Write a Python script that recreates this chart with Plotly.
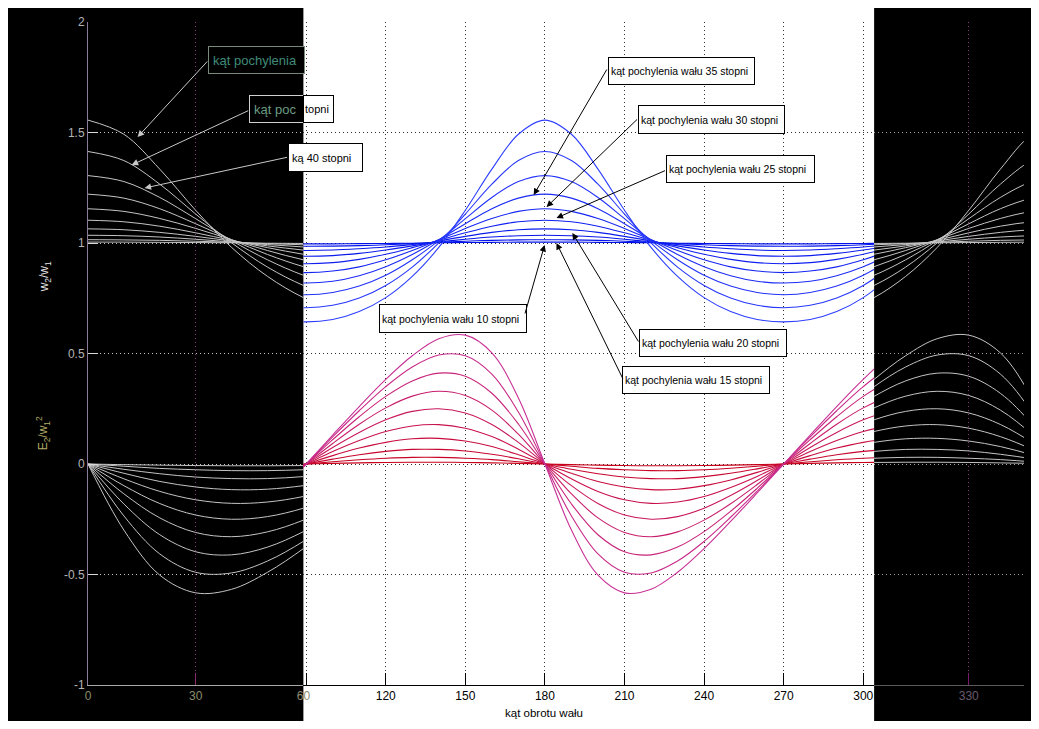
import plotly.graph_objects as go

# ---------------- data ----------------
ANGLES = [0, 10, 20, 30, 40, 50, 60, 70, 80, 90, 100, 110, 120, 130, 140, 150, 160, 170, 180,
          190, 200, 210, 220, 230, 240, 250, 260, 270, 280, 290, 300, 310, 320, 330, 340, 350, 360]

TILT_ANGLES = [5, 10, 15, 20, 25, 30, 35, 40, 45, 50]

# w2/w1
W_05 = [1.004, 1.004, 1.003, 1.002, 1.001, 0.999, 0.998, 0.997, 0.996, 0.996, 0.996, 0.997, 0.998, 0.999, 1.001, 1.002, 1.003, 1.004, 1.004, 1.004, 1.003, 1.002, 1.001, 0.999, 0.998, 0.997, 0.996, 0.996, 0.996, 0.997, 0.998, 0.999, 1.001, 1.002, 1.003, 1.004, 1.004]
W_10 = [1.015, 1.014, 1.012, 1.008, 1.003, 0.997, 0.992, 0.988, 0.986, 0.985, 0.986, 0.988, 0.992, 0.997, 1.003, 1.008, 1.012, 1.014, 1.015, 1.014, 1.012, 1.008, 1.003, 0.997, 0.992, 0.988, 0.986, 0.985, 0.986, 0.988, 0.992, 0.997, 1.003, 1.008, 1.012, 1.014, 1.015]
W_15 = [1.035, 1.033, 1.027, 1.017, 1.005, 0.993, 0.982, 0.974, 0.968, 0.966, 0.968, 0.974, 0.982, 0.993, 1.005, 1.017, 1.027, 1.033, 1.035, 1.033, 1.027, 1.017, 1.005, 0.993, 0.982, 0.974, 0.968, 0.966, 0.968, 0.974, 0.982, 0.993, 1.005, 1.017, 1.027, 1.033, 1.035]
W_20 = [1.064, 1.060, 1.048, 1.030, 1.009, 0.987, 0.968, 0.953, 0.943, 0.940, 0.943, 0.953, 0.968, 0.987, 1.009, 1.030, 1.048, 1.060, 1.064, 1.060, 1.048, 1.030, 1.009, 0.987, 0.968, 0.953, 0.943, 0.940, 0.943, 0.953, 0.968, 0.987, 1.009, 1.030, 1.048, 1.060, 1.064]
W_25 = [1.103, 1.096, 1.076, 1.046, 1.012, 0.979, 0.949, 0.926, 0.911, 0.906, 0.911, 0.926, 0.949, 0.979, 1.012, 1.046, 1.076, 1.096, 1.103, 1.096, 1.076, 1.046, 1.012, 0.979, 0.949, 0.926, 0.911, 0.906, 0.911, 0.926, 0.949, 0.979, 1.012, 1.046, 1.076, 1.096, 1.103]
W_30 = [1.155, 1.143, 1.111, 1.066, 1.015, 0.966, 0.924, 0.892, 0.873, 0.866, 0.873, 0.892, 0.924, 0.966, 1.015, 1.066, 1.111, 1.143, 1.155, 1.143, 1.111, 1.066, 1.015, 0.966, 0.924, 0.892, 0.873, 0.866, 0.873, 0.892, 0.924, 0.966, 1.015, 1.066, 1.111, 1.143, 1.155]
W_35 = [1.221, 1.203, 1.155, 1.087, 1.015, 0.948, 0.893, 0.852, 0.827, 0.819, 0.827, 0.852, 0.893, 0.948, 1.015, 1.087, 1.155, 1.203, 1.221, 1.203, 1.155, 1.087, 1.015, 0.948, 0.893, 0.852, 0.827, 0.819, 0.827, 0.852, 0.893, 0.948, 1.015, 1.087, 1.155, 1.203, 1.221]
W_40 = [1.305, 1.278, 1.206, 1.110, 1.011, 0.924, 0.854, 0.805, 0.776, 0.766, 0.776, 0.805, 0.854, 0.924, 1.011, 1.110, 1.206, 1.278, 1.305, 1.278, 1.206, 1.110, 1.011, 0.924, 0.854, 0.805, 0.776, 0.766, 0.776, 0.805, 0.854, 0.924, 1.011, 1.110, 1.206, 1.278, 1.305]
W_45 = [1.414, 1.373, 1.266, 1.131, 1.001, 0.891, 0.808, 0.751, 0.718, 0.707, 0.718, 0.751, 0.808, 0.891, 1.001, 1.131, 1.266, 1.373, 1.414, 1.373, 1.266, 1.131, 1.001, 0.891, 0.808, 0.751, 0.718, 0.707, 0.718, 0.751, 0.808, 0.891, 1.001, 1.131, 1.266, 1.373, 1.414]
W_50 = [1.556, 1.492, 1.334, 1.148, 0.980, 0.849, 0.753, 0.690, 0.654, 0.643, 0.654, 0.690, 0.753, 0.849, 0.980, 1.148, 1.334, 1.492, 1.556, 1.492, 1.334, 1.148, 0.980, 0.849, 0.753, 0.690, 0.654, 0.643, 0.654, 0.690, 0.753, 0.849, 0.980, 1.148, 1.334, 1.492, 1.556]

# E2/w1^2
E_05 = [0, -0.003, -0.005, -0.007, -0.008, -0.008, -0.007, -0.005, -0.003, 0, 0.003, 0.005, 0.007, 0.008, 0.008, 0.007, 0.005, 0.003, 0, -0.003, -0.005, -0.007, -0.008, -0.008, -0.007, -0.005, -0.003, 0, 0.003, 0.005, 0.007, 0.008, 0.008, 0.007, 0.005, 0.003, 0]
E_10 = [0, -0.010, -0.020, -0.026, -0.030, -0.030, -0.026, -0.019, -0.010, 0, 0.010, 0.019, 0.026, 0.030, 0.030, 0.026, 0.020, 0.010, 0, -0.010, -0.020, -0.026, -0.030, -0.030, -0.026, -0.019, -0.010, 0, 0.010, 0.019, 0.026, 0.030, 0.030, 0.026, 0.020, 0.010, 0]
E_15 = [0, -0.024, -0.044, -0.059, -0.066, -0.066, -0.057, -0.042, -0.022, 0, 0.022, 0.042, 0.057, 0.066, 0.066, 0.059, 0.044, 0.024, 0, -0.024, -0.044, -0.059, -0.066, -0.066, -0.057, -0.042, -0.022, 0, 0.022, 0.042, 0.057, 0.066, 0.066, 0.059, 0.044, 0.024, 0]
E_20 = [0, -0.042, -0.079, -0.104, -0.116, -0.114, -0.098, -0.072, -0.038, 0, 0.038, 0.072, 0.098, 0.114, 0.116, 0.104, 0.079, 0.042, 0, -0.042, -0.079, -0.104, -0.116, -0.114, -0.098, -0.072, -0.038, 0, 0.038, 0.072, 0.098, 0.114, 0.116, 0.104, 0.079, 0.042, 0]
E_25 = [0, -0.067, -0.124, -0.162, -0.178, -0.172, -0.147, -0.106, -0.056, 0, 0.056, 0.106, 0.147, 0.172, 0.178, 0.162, 0.124, 0.067, 0, -0.067, -0.124, -0.162, -0.178, -0.172, -0.147, -0.106, -0.056, 0, 0.056, 0.106, 0.147, 0.172, 0.178, 0.162, 0.124, 0.067, 0]
E_30 = [0, -0.098, -0.179, -0.231, -0.250, -0.238, -0.200, -0.143, -0.075, 0, 0.075, 0.143, 0.200, 0.238, 0.250, 0.231, 0.179, 0.098, 0, -0.098, -0.179, -0.231, -0.250, -0.238, -0.200, -0.143, -0.075, 0, 0.075, 0.143, 0.200, 0.238, 0.250, 0.231, 0.179, 0.098, 0]
E_35 = [0, -0.135, -0.244, -0.310, -0.329, -0.307, -0.254, -0.180, -0.093, 0, 0.093, 0.180, 0.254, 0.307, 0.329, 0.310, 0.244, 0.135, 0, -0.135, -0.244, -0.310, -0.329, -0.307, -0.254, -0.180, -0.093, 0, 0.093, 0.180, 0.254, 0.307, 0.329, 0.310, 0.244, 0.135, 0]
E_40 = [0, -0.181, -0.320, -0.397, -0.411, -0.376, -0.306, -0.214, -0.110, 0, 0.110, 0.214, 0.306, 0.376, 0.411, 0.397, 0.320, 0.181, 0, -0.181, -0.320, -0.397, -0.411, -0.376, -0.306, -0.214, -0.110, 0, 0.110, 0.214, 0.306, 0.376, 0.411, 0.397, 0.320, 0.181, 0]
E_45 = [0, -0.235, -0.407, -0.490, -0.493, -0.439, -0.350, -0.241, -0.123, 0, 0.123, 0.241, 0.350, 0.439, 0.493, 0.490, 0.407, 0.235, 0, -0.235, -0.407, -0.490, -0.493, -0.439, -0.350, -0.241, -0.123, 0, 0.123, 0.241, 0.350, 0.439, 0.493, 0.490, 0.407, 0.235, 0]
E_50 = [0, -0.299, -0.503, -0.583, -0.567, -0.490, -0.383, -0.260, -0.131, 0, 0.131, 0.260, 0.383, 0.490, 0.567, 0.583, 0.503, 0.299, 0, -0.299, -0.503, -0.583, -0.567, -0.490, -0.383, -0.260, -0.131, 0, 0.131, 0.260, 0.383, 0.490, 0.567, 0.583, 0.503, 0.299, 0]

W_SERIES = [W_05, W_10, W_15, W_20, W_25, W_30, W_35, W_40, W_45, W_50]
E_SERIES = [E_05, E_10, E_15, E_20, E_25, E_30, E_35, E_40, E_45, E_50]

Y_TICKS = [-1, -0.5, 0, 0.5, 1, 1.5, 2]
Y_TICK_TEXT = ["-1", "-0.5", "0", "0.5", "1", "1.5", "2"]
X_TICKS_LEFT = [0, 30, 60]
X_TICKS_MID = [90, 120, 150, 180, 210, 240, 270, 300]
X_TICK_TEXT_MID = ["", "120", "150", "180", "210", "240", "270", "300"]
X_TICKS_RIGHT = [330]

X_TITLE = "kąt obrotu wału"
Y_TITLE_W = "w<sub>2</sub>/w<sub>1</sub>"
Y_TITLE_E = "E<sub>2</sub>/w<sub>1</sub><sup>2</sup>"

LABEL_BOXES = [
    # left black panel (cut-off labels)
    ("kąt pochylenia", (209, 46, 305, 73), "#3f8c78", "black", "#7a8a7a", 13, 4),
    ("kąt poc", (250, 95, 305, 122), "#6a9c84", "black", "#d0d0d0", 13, 4),
    ("topni", (305, 95, 335, 122), "black", "white", "black", 11, 1),
    ("ką 40 stopni", (289, 143, 363, 171), "black", "white", "black", 11, 3),
    # white middle panel
    ("kąt pochylenia wału 35 stopni", (612, 57, 758, 84), "black", "white", "black", 10.5, 2),
    ("kąt pochylenia wału 30 stopni", (642, 105, 788, 133), "black", "white", "black", 10.5, 2),
    ("kąt pochylenia wału 25 stopni", (670, 155, 818, 182), "black", "white", "black", 10.5, 2),
    ("kąt pochylenia wału 20 stopni", (643, 329, 790, 356), "black", "white", "black", 10.5, 2),
    ("kąt pochylenia wału 15 stopni", (626, 366, 773, 393), "black", "white", "black", 10.5, 2),
    ("kąt pochylenia wału 10 stopni", (381, 304, 528, 332), "black", "white", "black", 10.5, 2),
]

# arrows: head (x, y), tail (x, y) in page pixels, colour
ARROWS = [
    ((138, 137), (209, 60), "#c8c8c8"),
    ((132, 165), (250, 110), "#c8c8c8"),
    ((145, 188), (289, 157), "#c8c8c8"),
    ((537, 195), (611, 68), "black"),
    ((550, 207), (642, 118), "black"),
    ((560, 218), (670, 170), "black"),
    ((576, 233), (643, 343), "black"),
    ((560, 243), (627, 380), "black"),
    ((548, 245), (528, 315), "black"),
]

# ---------------- styling / geometry ----------------
FONT = "Liberation Sans, Arial, Helvetica, sans-serif"

FIG_W, FIG_H = 1023, 713            # page shows the figure offset by 8px
PL, PT, PR, PB = 88, 22, 1031, 685  # plot area in page pixels


def fx(p):
    return (p - PL) / (PR - PL)


def fy(p):
    return 1 - (p - PT) / (PB - PT)


DOM_L = [0, fx(305)]
DOM_M = [fx(305), fx(880)]
DOM_R = [fx(880), 1]

DOT = "1px,3px"
GRAY_LINE = "#c4c4c4"
BLUE_COLORS = ["#0010e8", "#0414ea", "#0818ec", "#0c1cee", "#1020f0",
               "#1626f2", "#1c2cf4", "#2232f8", "#2838fb", "#2e40ff"]
RED_COLORS = ["#c80018", "#c80424", "#c80830", "#c80c3e", "#c8124c",
              "#c8185c", "#c81e6c", "#c8247a", "#c82a88", "#c83096"]

fig = go.Figure()

for i, tilt in enumerate(TILT_ANGLES):
    w = W_SERIES[i]
    e = E_SERIES[i]
    common = dict(x=ANGLES, mode="lines", showlegend=False, hoverinfo="skip")
    # left black panel
    fig.add_trace(go.Scatter(y=w, xaxis="x", yaxis="y",
                             line=dict(color=GRAY_LINE, width=1, shape="spline"), **common))
    fig.add_trace(go.Scatter(y=e, xaxis="x", yaxis="y",
                             line=dict(color=GRAY_LINE, width=1, shape="spline"), **common))
    # middle white panel
    fig.add_trace(go.Scatter(y=w, xaxis="x2", yaxis="y2",
                             line=dict(color=BLUE_COLORS[i], width=1.1, shape="spline"), **common))
    fig.add_trace(go.Scatter(y=e, xaxis="x2", yaxis="y2",
                             line=dict(color=RED_COLORS[i], width=1.1, shape="spline"), **common))
    # right black panel
    fig.add_trace(go.Scatter(y=w, xaxis="x3", yaxis="y3",
                             line=dict(color=GRAY_LINE, width=1, shape="spline"), **common))
    fig.add_trace(go.Scatter(y=e, xaxis="x3", yaxis="y3",
                             line=dict(color=GRAY_LINE, width=1, shape="spline"), **common))

shapes = [
    dict(type="rect", xref="paper", yref="paper", x0=fx(0), x1=fx(305), y0=fy(740), y1=fy(8),
         fillcolor="black", line=dict(width=0), layer="below"),
    dict(type="rect", xref="paper", yref="paper", x0=fx(880), x1=fx(1050), y0=fy(740), y1=fy(8),
         fillcolor="black", line=dict(width=0), layer="below"),
]

annotations = []
for text, (x0, y0, x1, y1), col, bg, border, size, pad in LABEL_BOXES:
    annotations.append(dict(
        xref="paper", yref="paper", x=fx(x0), y=fy(y0), xanchor="left", yanchor="top",
        text=text, showarrow=False,
        font=dict(family=FONT, size=size, color=col),
        bgcolor=bg, bordercolor=border, borderwidth=1, borderpad=pad,
        width=max(4, x1 - x0 - 2 * pad - 1), height=y1 - y0 - 2 * pad - 1,
        align="left", valign="middle"))

for (hx, hy), (tx, ty), col in ARROWS:
    annotations.append(dict(
        xref="paper", yref="paper", x=fx(hx), y=fy(hy), ax=tx - hx, ay=ty - hy,
        axref="pixel", ayref="pixel", text="", showarrow=True,
        arrowhead=2, arrowsize=1.3, arrowwidth=1, arrowcolor=col,
        standoff=0, startstandoff=0))

annotations += [
    dict(xref="paper", yref="paper", x=fx(45), y=fy(277), text=Y_TITLE_W, textangle=-90,
         xanchor="center", yanchor="middle",
         showarrow=False, font=dict(family=FONT, size=12, color="#e6e6e6")),
    dict(xref="paper", yref="paper", x=fx(43), y=fy(433), text=Y_TITLE_E, textangle=-90,
         xanchor="center", yanchor="middle",
         showarrow=False, font=dict(family=FONT, size=12, color="#b4ac64")),
    dict(xref="paper", yref="paper", x=fx(547), y=fy(713), text=X_TITLE,
         xanchor="center", yanchor="middle",
         showarrow=False, font=dict(family=FONT, size=11.5, color="black")),
]

fig.update_layout(
    width=FIG_W, height=FIG_H,
    margin=dict(l=PL - 8, r=FIG_W - (PR - 8), t=PT - 8, b=FIG_H - (PB - 8)),
    paper_bgcolor="white", plot_bgcolor="rgba(0,0,0,0)",
    showlegend=False, hovermode=False,
    shapes=shapes, annotations=annotations,
    xaxis=dict(domain=DOM_L, range=[0, 60], anchor="y", tickvals=X_TICKS_LEFT,
               ticks="inside", ticklen=12, tickcolor="#8a2a6a", showline=True,
               linecolor="#a8a8a8", showgrid=True, gridcolor="#8a3a7a", griddash=DOT,
               zeroline=False, tickfont=dict(family=FONT, size=12, color="#8c8c6c")),
    yaxis=dict(domain=[0, 1], range=[-1, 2], anchor="x", tickvals=Y_TICKS, ticktext=Y_TICK_TEXT,
               ticks="inside", ticklen=10, tickcolor="#d8d8d8", showline=True,
               linecolor="#8a7a9a", showgrid=True, gridcolor="#c8c8c0", griddash=DOT,
               zeroline=False, tickfont=dict(family=FONT, size=12, color="#b4b4b4")),
    xaxis2=dict(domain=DOM_M, range=[88.95, 304.1], anchor="y2", tickvals=X_TICKS_MID,
                ticktext=X_TICK_TEXT_MID, ticks="inside", ticklen=12, tickcolor="black",
                showline=True, linecolor="black", showgrid=True, gridcolor="#303030",
                griddash=DOT, zeroline=False,
                tickfont=dict(family=FONT, size=12, color="black")),
    yaxis2=dict(domain=[0, 1], range=[-1, 2], anchor="x2", tickvals=Y_TICKS,
                showticklabels=False, ticks="", showline=False, showgrid=True,
                gridcolor="#303030", griddash=DOT, zeroline=False),
    xaxis3=dict(domain=DOM_R, range=[300, 347.5], anchor="y3", tickvals=X_TICKS_RIGHT,
                ticks="inside", ticklen=12, tickcolor="#7a1a6a", showline=True,
                linecolor="#5a5a5a", showgrid=True, gridcolor="#8a3a7a", griddash=DOT,
                zeroline=False, tickfont=dict(family=FONT, size=12, color="#6a5a6a")),
    yaxis3=dict(domain=[0, 1], range=[-1, 2], anchor="x3", tickvals=Y_TICKS,
                showticklabels=False, ticks="", showline=False, showgrid=True,
                gridcolor="#a0a0a0", griddash=DOT, zeroline=False),
)

fig.write_html("out.html")
